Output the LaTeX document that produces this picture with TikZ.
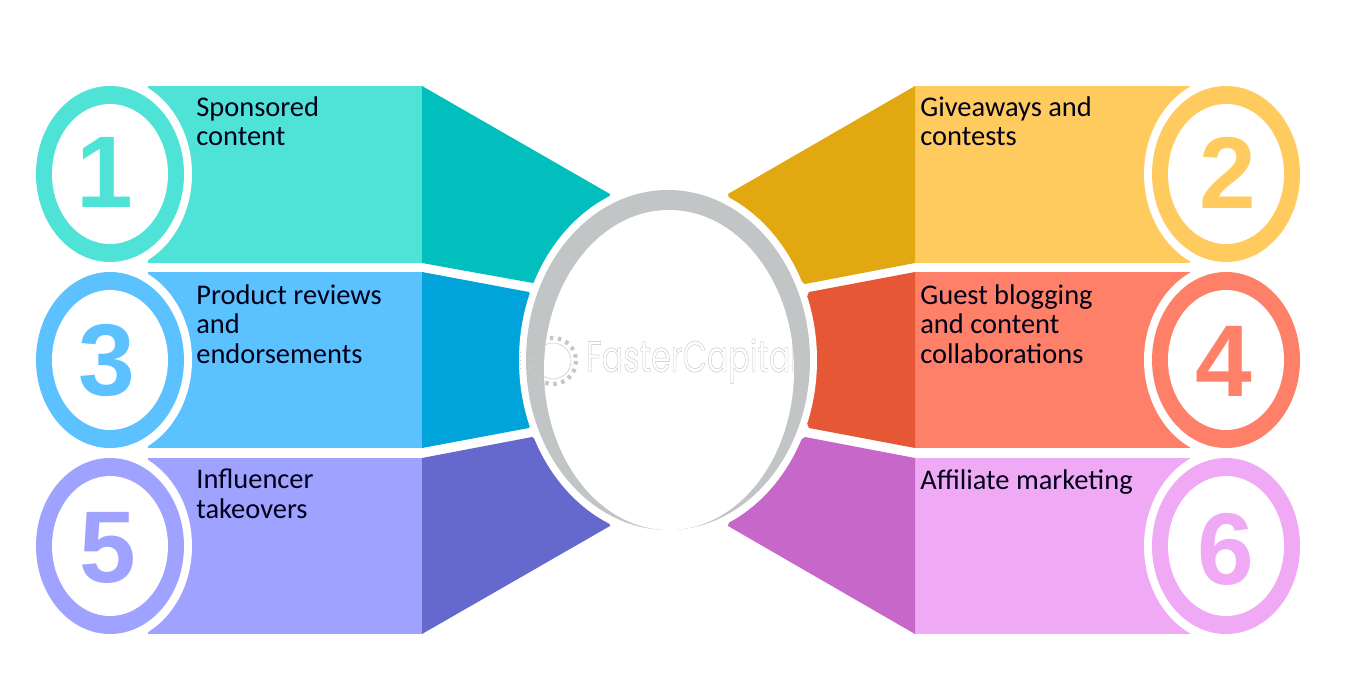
\documentclass[tikz,border=0pt]{standalone}
\usepackage{fontspec}
\usepackage{tikz}
\usetikzlibrary{calc,positioning}
\setmainfont{Carlito}
\newfontfamily\ztdigit{Liberation Sans}[Scale=1]
\newfontfamily\ztlogo{Poppins}
\definecolor{teal1}{HTML}{4FE3D8}\definecolor{teal2}{HTML}{00BFBC}
\definecolor{blue1}{HTML}{5BC1FF}\definecolor{blue2}{HTML}{00A4DB}
\definecolor{viol1}{HTML}{9FA3FF}\definecolor{viol2}{HTML}{6569CD}
\definecolor{gold1}{HTML}{FFCB5F}\definecolor{gold2}{HTML}{E2A812}
\definecolor{red1}{HTML}{FF8068}\definecolor{red2}{HTML}{E55735}
\definecolor{pink1}{HTML}{EFA9F5}\definecolor{pink2}{HTML}{C667C9}
\definecolor{ringgray}{HTML}{C2C5C6}
\newcommand{\ztring}[3]{%
  \fill[#3] (#1,#2) ellipse (74 and 88);
  \fill[white] (#1,#2) ellipse (58 and 70);}
\tikzset{
  label/.style={anchor=north west,align=left,inner sep=0pt,text=black!90!blue,
    font=\fontsize{16.2}{17}\selectfont},
  digit/.style={inner sep=0pt,font=\ztdigit\bfseries\fontsize{58}{58}\selectfont}
}
\begin{document}
\begin{tikzpicture}[x=0.02cm,y=-0.02cm]
\useasboundingbox (0,0) rectangle (1350,700);
% ribbons, left
\fill[teal1] (148,86) rectangle (423,263);
\fill[teal2] (422,86) -- (610,194) -- (600,240) -- (533,283) -- (422,263) -- cycle;
\fill[blue1] (148,272) rectangle (423,448);
\fill[blue2] (422,272) -- (529,292) -- (560,360) -- (529,428) -- (422,448) -- cycle;
\fill[viol1] (148,458) rectangle (423,634);
\fill[viol2] (422,458) -- (532,437) -- (600,480) -- (610,526) -- (422,634) -- cycle;
% ribbons, right
\fill[gold1] (914,86) rectangle (1190,263);
\fill[gold2] (915,86) -- (728,194) -- (740,240) -- (805,284) -- (915,263) -- cycle;
\fill[red1] (914,272) rectangle (1190,448);
\fill[red2] (915,272) -- (809,292) -- (780,360) -- (809,428) -- (915,448) -- cycle;
\fill[pink1] (914,458) rectangle (1190,634);
\fill[pink2] (915,458) -- (805,437) -- (740,480) -- (728,526) -- (915,634) -- cycle;
% white halos
\foreach \y in {174,360,546} {
  \fill[white] (110,\y) ellipse (82 and 97);
  \fill[white] (1226,\y) ellipse (82 and 97);
}
\fill[white] (668,360) ellipse (149 and 178);
% rings
\ztring{110}{174}{teal1}
\ztring{110}{360}{blue1}
\ztring{110}{546}{viol1}
\ztring{1226}{174}{gold1}
\ztring{1226}{360}{red1}
\ztring{1226}{546}{pink1}
\fill[ringgray] (668,360) ellipse (142 and 170);
\fill[white] (669,370) ellipse (125 and 160);
% numbers
\node[digit,text=teal1] (N_1) at (105,172) {1};
\node[digit,text=gold1] (N_2) at (1228,173) {2};
\node[digit,text=blue1] (N_3) at (107,360) {3};
\node[digit,text=red1] (N_4) at (1224,361) {4};
\node[digit,text=viol1] (N_5) at (108,548) {5};
\node[digit,text=pink1] (N_6) at (1226,549) {6};
% texts
\node[label] (T_1) at (196,96) {Sponsored\\content};
\node[label] (T_2) at (920,96) {Giveaways and\\contests};
\node[label] (T_3) at (196,284) {Product reviews\\and\\endorsements};
\node[label] (T_4) at (920,284) {Guest blogging\\and content\\collaborations};
\node[label] (T_5) at (196,469) {Influencer\\takeovers};
\node[label] (T_6) at (920,469) {Affiliate marketing};
% watermark
\draw[black!22,line width=0.3pt] (553,361) circle (18);
\draw[black!22,line width=2.4pt,dash pattern=on 2pt off 2.6pt] (553,361) circle (23);
\foreach \x in {520,527,534,541} \draw[black!25,line width=0.3pt,dotted] (\x,352) -- (\x,370);
\node[xscale=0.72,inner sep=0pt,text=black!24] (W_1) at (692,361)
  {\ztlogo\fontsize{25}{25}\selectfont\special{pdf:code 1 Tr 0.25 w}FasterCapital\special{pdf:code 0 Tr}};
\end{tikzpicture}
\end{document}
